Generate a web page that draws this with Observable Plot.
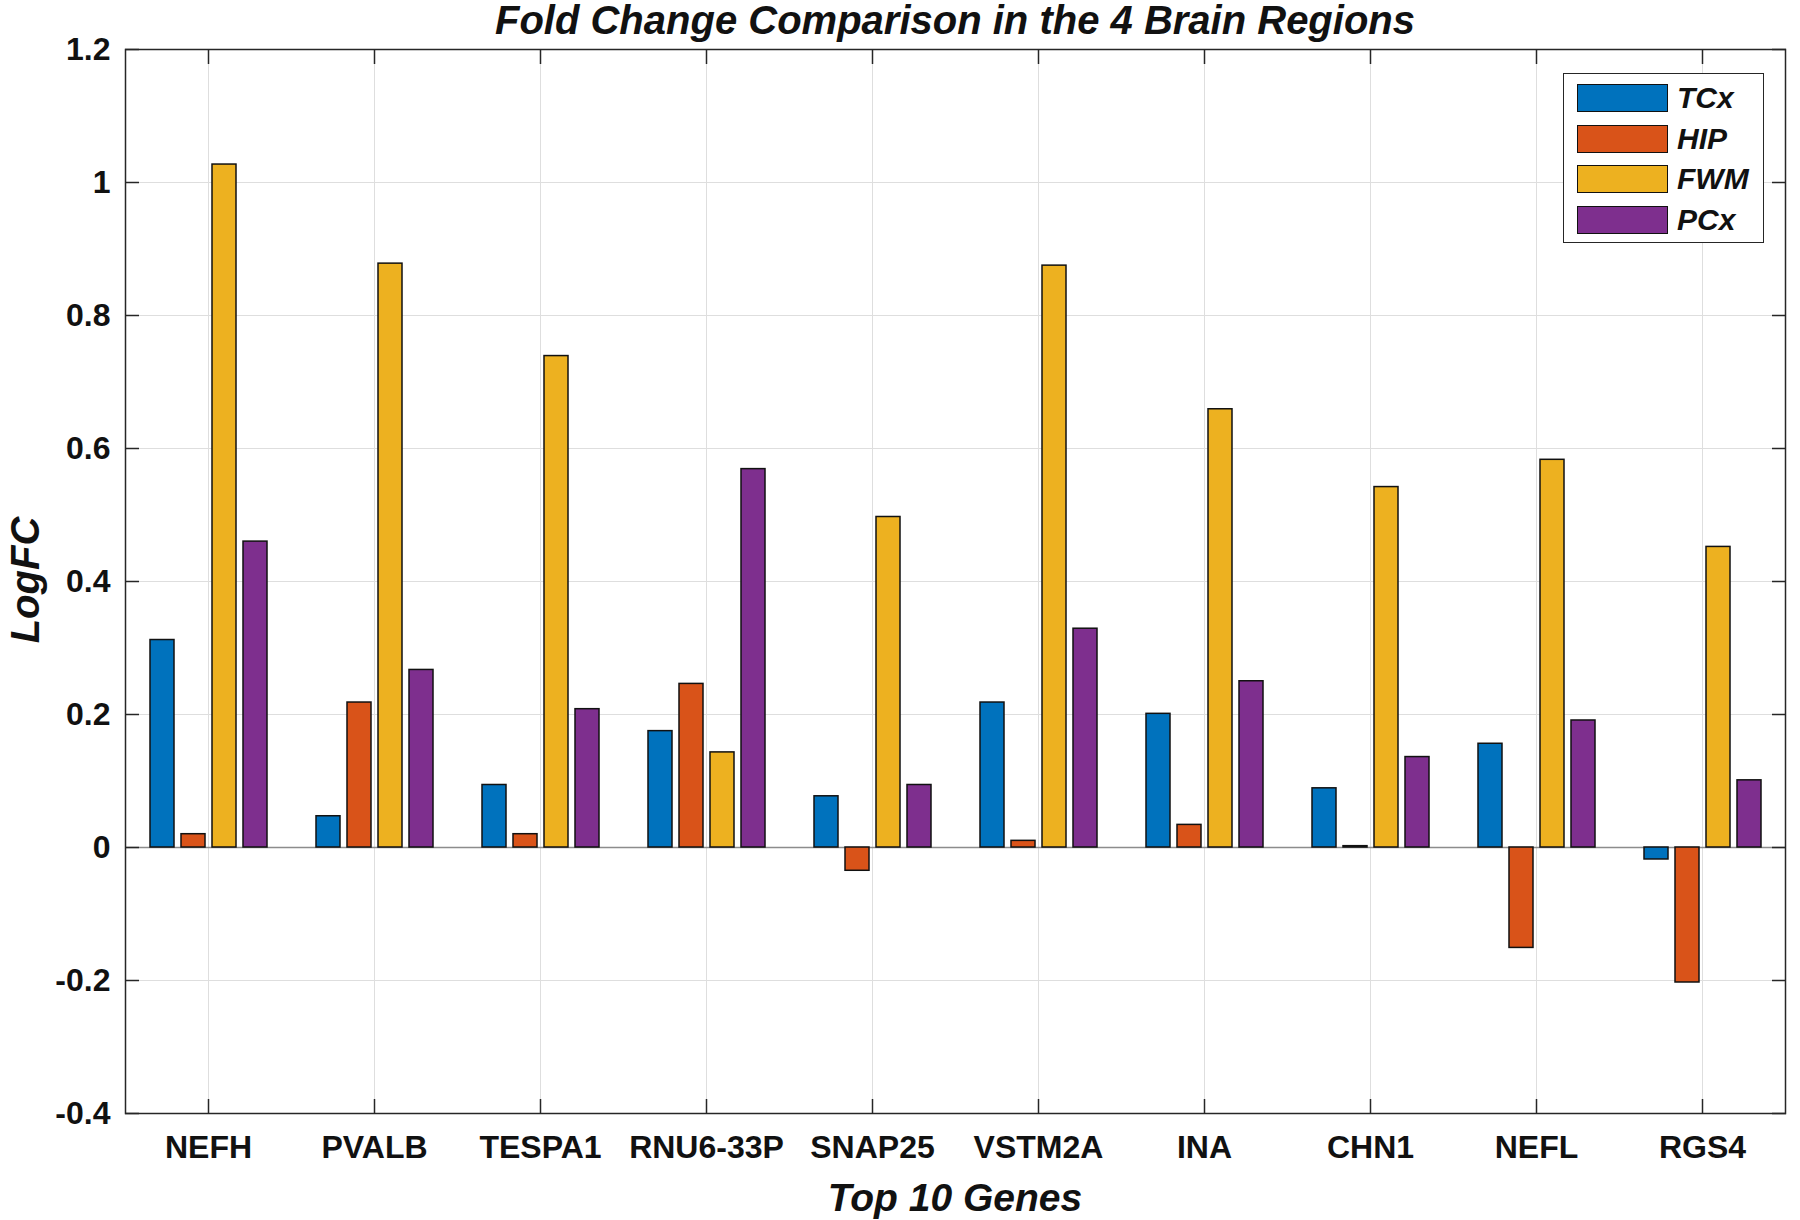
<!DOCTYPE html>
<html><head><meta charset="utf-8">
<script src="https://cdn.jsdelivr.net/npm/d3@7"></script>
<script src="https://cdn.jsdelivr.net/npm/@observablehq/plot@0.6"></script>
<style>
body{margin:0;background:#fff;}
#wrap{position:relative;width:1800px;height:1220px;font-family:"Liberation Sans",Arial,Helvetica,sans-serif;color:#111;}
#title{position:absolute;left:122px;width:1666px;top:0px;height:40px;line-height:40px;font-size:40px;font-weight:bold;font-style:italic;text-align:center;white-space:nowrap;}
#xlabel{position:absolute;left:122px;width:1666px;top:1178px;height:39px;line-height:39px;font-size:39px;font-weight:bold;font-style:italic;text-align:center;}
#ylabel{position:absolute;left:-125px;width:300px;top:560px;height:40px;line-height:40px;font-size:40px;font-weight:bold;font-style:italic;text-align:center;transform:rotate(-90deg);}
#legend{position:absolute;left:1563px;top:73px;width:201px;height:170px;border:1.5px solid #262626;background:#fff;box-sizing:border-box;}
.item{position:absolute;left:13px;height:28px;}
.sw{position:absolute;left:0;top:0;width:89px;height:26px;border:1.5px solid #111;}
.lb{position:absolute;left:100px;top:-4px;font-size:30px;line-height:36px;font-weight:bold;font-style:italic;white-space:nowrap;}
</style></head><body>
<div id="wrap">
  <div id="chart"></div>
  <div id="title">Fold Change Comparison in the 4 Brain Regions</div>
  <div id="xlabel">Top 10 Genes</div>
  <div id="ylabel">LogFC</div>
  <div id="legend"></div>
</div>
<script>
const genes = ["NEFH","PVALB","TESPA1","RNU6-33P","SNAP25","VSTM2A","INA","CHN1","NEFL","RGS4"];
const regions = ["TCx","HIP","FWM","PCx"];
const colors = ["#0072BD","#D95319","#EDB120","#7E2F8E"];
const TCx = [0.312, 0.047, 0.094, 0.175, 0.077, 0.218, 0.201, 0.089, 0.156, -0.018];
const HIP = [0.020, 0.218, 0.020, 0.246, -0.035, 0.010, 0.034, 0.002, -0.151, -0.203];
const FWM = [1.027, 0.878, 0.739, 0.143, 0.497, 0.875, 0.659, 0.542, 0.583, 0.452];
const PCx = [0.460, 0.267, 0.208, 0.569, 0.094, 0.329, 0.250, 0.136, 0.191, 0.101];
const yTicks = [-0.4, -0.2, 0, 0.2, 0.4, 0.6, 0.8, 1, 1.2];

const series = {TCx, HIP, FWM, PCx};
const data = genes.flatMap((g, i) => regions.map(r => ({gene: g, region: r, value: series[r][i]})));
const fmt = d => String(+(+d).toFixed(1));

const marks = [
  Plot.gridY(yTicks, {stroke: "#dedede", strokeOpacity: 1, strokeWidth: 1}),
];
if (typeof Plot.gridFx === "function") marks.push(Plot.gridFx({stroke: "#dedede", strokeOpacity: 1, strokeWidth: 1}));
marks.push(
  Plot.ruleY([0], {stroke: "#8c8c8c", strokeWidth: 1.5}),
  Plot.barY(data, {fx: "gene", x: "region", y: "value", fill: "region", stroke: "#111", strokeWidth: 1.5, insetLeft: 0, insetRight: 0}),
  Plot.frame({facet: "super", stroke: "#262626", strokeWidth: 1.5}),
  Plot.axisY(yTicks, {anchor: "left", tickSize: 0, tickPadding: 15, tickFormat: fmt, label: null}),
  Plot.axisY(yTicks, {anchor: "left", fill: "none", stroke: "#262626", strokeWidth: 1.5, tickSize: 14, insetLeft: 14, label: null}),
  Plot.axisY(yTicks, {anchor: "right", fill: "none", stroke: "#262626", strokeWidth: 1.5, tickSize: 14, insetRight: 14, label: null}),
  Plot.axisFx({anchor: "bottom", tickSize: 0, tickPadding: 22, label: null}),
  Plot.axisFx({anchor: "bottom", fill: "none", stroke: "#262626", strokeWidth: 1.5, tickSize: 14, insetBottom: 14, label: null}),
  Plot.axisFx({anchor: "top", fill: "none", stroke: "#262626", strokeWidth: 1.5, tickSize: 14, insetTop: 14, label: null})
);

const chart = Plot.plot({
  width: 1800, height: 1220,
  marginLeft: 122, marginRight: 12, marginTop: 49, marginBottom: 107,
  style: "font-family:'Liberation Sans',Arial,Helvetica,sans-serif;font-size:32px;font-weight:bold;color:#111;background:#fff;overflow:visible;",
  fx: {domain: genes, padding: 0, label: null, axis: null},
  x: {domain: regions, paddingInner: 0.236, paddingOuter: 0.736, axis: null},
  y: {domain: [-0.4, 1.2], label: null, axis: null},
  color: {domain: regions, range: colors},
  marks
});
document.getElementById("chart").appendChild(chart);

const legend = document.getElementById("legend");
regions.forEach((r, i) => {
  const it = document.createElement("div");
  it.className = "item";
  it.style.top = (10 + i * 40.7) + "px";
  const sw = document.createElement("div");
  sw.className = "sw";
  sw.style.background = colors[i];
  const lb = document.createElement("div");
  lb.className = "lb";
  lb.textContent = r;
  it.appendChild(sw); it.appendChild(lb);
  legend.appendChild(it);
});
</script>
</body></html>
